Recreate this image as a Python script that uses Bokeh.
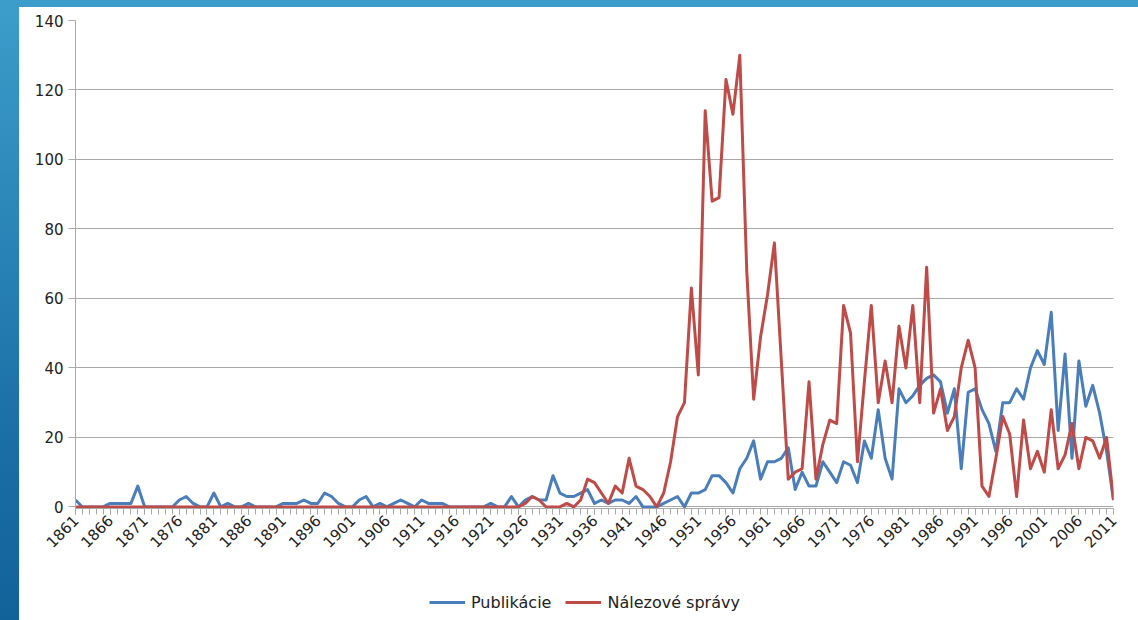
from math import pi
from bokeh.plotting import figure
from bokeh.models import Range1d, FixedTicker, Legend, LegendItem, Div
from bokeh.layouts import row, column
from bokeh.embed import file_html
from bokeh.resources import INLINE

years = list(range(1861, 2012))

publikacie = [
    2, 0, 0, 0, 0, 1, 1, 1, 1, 6,      # 1861-1870
    0, 0, 0, 0, 0, 2, 3, 1, 0, 0,      # 1871-1880
    4, 0, 1, 0, 0, 1, 0, 0, 0, 0,      # 1881-1890
    1, 1, 1, 2, 1, 1, 4, 3, 1, 0,      # 1891-1900
    0, 2, 3, 0, 1, 0, 1, 2, 1, 0,      # 1901-1910
    2, 1, 1, 1, 0, 0, 0, 0, 0, 0,      # 1911-1920
    1, 0, 0, 3, 0, 2, 3, 2, 2, 9,      # 1921-1930
    4, 3, 3, 4, 5, 1, 2, 1, 2, 2,      # 1931-1940
    1, 3, 0, 0, 0, 1, 2, 3, 0, 4,      # 1941-1950
    4, 5, 9, 9, 7, 4, 11, 14, 19, 8,   # 1951-1960
    13, 13, 14, 17, 5, 10, 6, 6, 13, 10,   # 1961-1970
    7, 13, 12, 7, 19, 14, 28, 14, 8, 34,   # 1971-1980
    30, 32, 35, 37, 38, 36, 27, 34, 11, 33,  # 1981-1990
    34, 28, 24, 16, 30, 30, 34, 31, 40, 45,  # 1991-2000
    41, 56, 22, 44, 14, 42, 29, 35, 27, 16,  # 2001-2010
    2,                                       # 2011
]

nalezove_spravy = [
    0, 0, 0, 0, 0, 0, 0, 0, 0, 0,      # 1861-1870
    0, 0, 0, 0, 0, 0, 0, 0, 0, 0,      # 1871-1880
    0, 0, 0, 0, 0, 0, 0, 0, 0, 0,      # 1881-1890
    0, 0, 0, 0, 0, 0, 0, 0, 0, 0,      # 1891-1900
    0, 0, 0, 0, 0, 0, 0, 0, 0, 0,      # 1901-1910
    0, 0, 0, 0, 0, 0, 0, 0, 0, 0,      # 1911-1920
    0, 0, 0, 0, 0, 1, 3, 2, 0, 0,      # 1921-1930
    0, 1, 0, 2, 8, 7, 4, 1, 6, 4,      # 1931-1940
    14, 6, 5, 3, 0, 4, 13, 26, 30, 63,     # 1941-1950
    38, 114, 88, 89, 123, 113, 130, 68, 31, 49,  # 1951-1960
    61, 76, 42, 8, 10, 11, 36, 8, 18, 25,  # 1961-1970
    24, 58, 50, 13, 36, 58, 30, 42, 30, 52,  # 1971-1980
    40, 58, 30, 69, 27, 34, 22, 26, 40, 48,  # 1981-1990
    40, 6, 3, 14, 26, 21, 3, 25, 11, 16,   # 1991-2000
    10, 28, 11, 15, 24, 11, 20, 19, 14, 20,  # 2001-2010
    2,                                       # 2011
]

x_tick_years = list(range(1861, 2012, 5))
y_ticks = [0, 20, 40, 60, 80, 100, 120, 140]
series_names = ["Publikácie", "Nálezové správy"]

FONT = "DejaVu Sans"
BLUE = "#4a7ebb"
RED = "#be4b48"
GRID = "#a9a9a9"
FRAME_BLUE = "#3c9dca"

p = figure(width=1119, height=575, output_backend="svg", toolbar_location=None,
           x_range=Range1d(years[0], years[-1]), y_range=Range1d(-0.45, 140),
           min_border_left=56, min_border_right=25, min_border_top=13,
           min_border_bottom=74)
p.outline_line_color = None
p.background_fill_color = "white"
p.border_fill_color = "white"

p.line(years, publikacie, line_color=BLUE, line_width=3, line_join="round")
p.line(years, nalezove_spravy, line_color=RED, line_width=3, line_join="round")

p.xgrid.grid_line_color = None
p.ygrid.grid_line_color = GRID
p.ygrid.grid_line_width = 1

xa = p.xaxis[0]
xa.ticker = FixedTicker(ticks=x_tick_years, minor_ticks=years)
xa.major_label_orientation = pi / 4
xa.major_label_text_font = FONT
xa.major_label_text_font_size = "15px"
xa.major_label_text_color = "#222222"
xa.axis_line_color = GRID
xa.major_tick_line_color = GRID
xa.minor_tick_line_color = GRID
xa.major_tick_in = 0
xa.minor_tick_in = 0
xa.major_tick_out = 6
xa.minor_tick_out = 6
xa.major_label_standoff = 3

ya = p.yaxis[0]
ya.ticker = FixedTicker(ticks=y_ticks)
ya.major_label_text_font = FONT
ya.major_label_text_font_size = "15px"
ya.major_label_text_color = "#222222"
ya.axis_line_color = GRID
ya.major_tick_line_color = GRID
ya.minor_tick_line_color = None
ya.major_tick_in = 0
ya.major_tick_out = 7
ya.major_label_standoff = 5

# legend strip below the chart (its lines lie outside its own visible ranges)
lg = figure(width=1119, height=38, output_backend="svg", toolbar_location=None,
            x_range=Range1d(0, 1), y_range=Range1d(0, 1),
            x_axis_location=None, y_axis_location=None, min_border=0)
lg.outline_line_color = None
lg.grid.visible = False
l1 = lg.line(years, publikacie, line_color=BLUE, line_width=3)
l2 = lg.line(years, nalezove_spravy, line_color=RED, line_width=3)
legend = Legend(items=[LegendItem(label=series_names[0], renderers=[l1]),
                       LegendItem(label=series_names[1], renderers=[l2])],
                orientation="horizontal", location=(350, 4),
                border_line_alpha=0, background_fill_alpha=0,
                label_text_font=FONT, label_text_font_size="16px",
                label_text_color="#222222",
                glyph_width=36, label_standoff=6, spacing=14,
                margin=0, padding=4)
lg.add_layout(legend)

top_bar = Div(text="", width=1138, height=7, margin=0,
              styles={"background": FRAME_BLUE})
strip = Div(text="", width=19, height=613, margin=0,
            styles={"background": "linear-gradient(#3c9cca, #1a6fa6 70%, #12629a)"})

layout = column(top_bar, row(strip, column(p, lg, spacing=0), spacing=0), spacing=0)

open("out.html", "w").write(file_html(layout, INLINE))
